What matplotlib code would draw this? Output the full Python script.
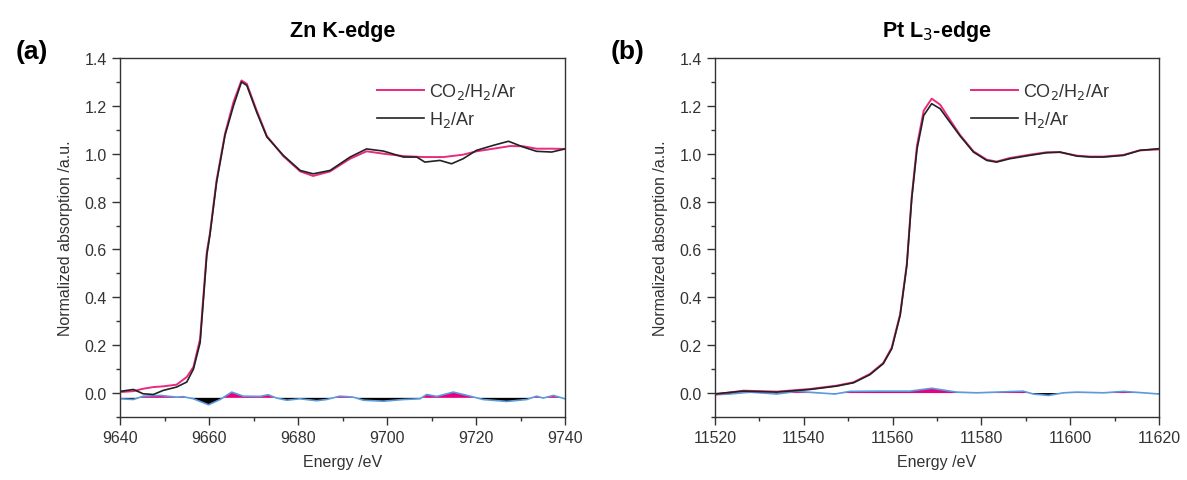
import numpy as np
import matplotlib.pyplot as plt
from matplotlib.ticker import MultipleLocator

plt.rcParams['font.family'] = ['Liberation Sans', 'DejaVu Sans']
plt.rcParams['text.color'] = '#333333'
plt.rcParams['axes.labelcolor'] = '#333333'
plt.rcParams['xtick.labelcolor'] = '#333333'
plt.rcParams['ytick.labelcolor'] = '#333333'

# Zn K-edge
zn_e_h2 = [9640, 9643, 9645.2, 9647.5, 9649.7, 9652.7, 9655, 9656.5, 9658, 9659.5, 9660.2,
           9661.7, 9663.6, 9665.5, 9667.3, 9668.5, 9670.7, 9673, 9676.7, 9680.5, 9683.4,
           9687.2, 9691.7, 9695.4, 9699.2, 9703.7, 9706.7, 9708.5, 9711.9, 9714.5, 9717.1,
           9720.1, 9723.9, 9727.3, 9730.6, 9733.6, 9737, 9740]
zn_h2 = [0.007, 0.015, -0.003, -0.006, 0.011, 0.025, 0.046, 0.10, 0.21, 0.575, 0.66,
         0.88, 1.077, 1.20, 1.30, 1.285, 1.174, 1.07, 0.993, 0.93, 0.916,
         0.93, 0.986, 1.02, 1.011, 0.986, 0.986, 0.965, 0.972, 0.958, 0.979,
         1.014, 1.035, 1.052, 1.028, 1.01, 1.007, 1.02]
zn_e_co2 = [9640, 9643, 9645.2, 9647.5, 9649.7, 9652.7, 9655, 9656.5, 9658, 9659.5, 9660.2,
            9661.7, 9663.6, 9665.5, 9667.3, 9668.5, 9670.7, 9673, 9676.7, 9680.5, 9683.4,
            9687.2, 9691.7, 9695.4, 9699.2, 9703.7, 9708.2, 9712.7, 9717.1, 9720.1, 9723.9,
            9727.7, 9730.6, 9733.6, 9737, 9740]
zn_co2 = [0.004, 0.008, 0.018, 0.025, 0.028, 0.035, 0.067, 0.109, 0.227, 0.589, 0.666,
          0.889, 1.084, 1.216, 1.306, 1.292, 1.181, 1.074, 0.99, 0.926, 0.907,
          0.926, 0.979, 1.01, 1.0, 0.99, 0.986, 0.986, 0.996, 1.01, 1.021,
          1.032, 1.031, 1.021, 1.021, 1.02]
zn_e_diff = [9640, 9643, 9645.2, 9649, 9652.7, 9654.2, 9656.5, 9659.9, 9662.5, 9665.1, 9667.7,
             9671.5, 9673.3, 9675.2, 9677.5, 9680.4, 9684.2, 9686.4, 9689.4, 9692.4, 9694.7,
             9699.2, 9703.7, 9707.4, 9708.9, 9711.2, 9714.9, 9718.7, 9721.6, 9726.9, 9731.4,
             9733.6, 9735.1, 9737.4, 9740]
zn_diff = [-0.004, -0.007, 0.007, 0.01, 0.003, 0.005, -0.004, -0.029, -0.007, 0.024, 0.007,
           0.006, 0.013, -0.001, -0.01, -0.004, -0.012, -0.007, 0.007, 0.003, -0.01,
           -0.014, -0.007, -0.004, 0.014, 0.006, 0.024, 0.007, -0.007, -0.015, -0.007,
           0.007, -0.001, 0.01, -0.004]
zn_base = -0.02

# Pt L3-edge
pt_e = [11520, 11526.4, 11533.9, 11541.4, 11547.4, 11551.2, 11554.9, 11557.9, 11559.8, 11561.7,
        11563.2, 11564.3, 11565.5, 11567, 11568.8, 11570.7, 11572.9, 11575.2, 11578.2, 11581.2,
        11583.4, 11586.4, 11590.9, 11594.7, 11597.7, 11601.5, 11604.5, 11607.5, 11612, 11615.7,
        11620]
pt_h2 = [-0.003, 0.008, 0.004, 0.015, 0.029, 0.043, 0.077, 0.123, 0.185, 0.325,
         0.533, 0.812, 1.02, 1.16, 1.209, 1.188, 1.132, 1.074, 1.007, 0.972,
         0.965, 0.979, 0.993, 1.004, 1.007, 0.99, 0.986, 0.986, 0.993, 1.014,
         1.021]
pt_co2 = [-0.006, 0.01, 0.006, 0.017, 0.031, 0.045, 0.08, 0.126, 0.19, 0.33,
          0.54, 0.82, 1.035, 1.18, 1.23, 1.205, 1.142, 1.078, 1.01, 0.975,
          0.967, 0.982, 0.996, 1.006, 1.006, 0.992, 0.988, 0.988, 0.995, 1.014,
          1.018]
pt_e_diff = [11520, 11523.4, 11527.9, 11533.9, 11538.4, 11547, 11550.4, 11556.4, 11563.9, 11568.8,
             11574.4, 11578.9, 11586.4, 11589.4, 11591.7, 11595.1, 11598.5, 11601.5, 11607.5, 11612,
             11616.5, 11620]
pt_diff = [-0.007, -0.004, 0.004, -0.004, 0.007, -0.004, 0.007, 0.008, 0.008, 0.02,
           0.004, 0.001, 0.006, 0.008, -0.004, -0.01, 0.001, 0.004, 0.001, 0.007,
           0.001, -0.004]
pt_base = 0.0

pink = '#ea2a7f'
blue = '#5b9bdc'

fig = plt.figure(figsize=(11.87, 4.81), dpi=100)
ax1 = fig.add_axes([0.1011, 0.131, 0.3749, 0.7464])
ax2 = fig.add_axes([0.6024, 0.131, 0.3740, 0.7464])


def draw(ax, e_co2, co2, e_h2, h2, e_d, d, base, xlim, xstep, title, label):
    e_d = np.array(e_d)
    yd = base + np.array(d)
    ax.fill_between(e_d, base, yd, where=yd >= base, interpolate=True, color='#e8007d', lw=0)
    ax.fill_between(e_d, base, yd, where=yd < base, interpolate=True, color='black', lw=0)
    ax.plot(e_d, yd, color=blue, lw=1.2)
    ax.plot(e_co2, co2, color=pink, lw=1.4, label='CO$_2$/H$_2$/Ar')
    ax.plot(e_h2, h2, color='#222222', lw=1.2, label='H$_2$/Ar')
    ax.set_xlim(*xlim)
    ax.set_ylim(-0.1, 1.4)
    ax.xaxis.set_major_locator(MultipleLocator(xstep))
    ax.xaxis.set_minor_locator(MultipleLocator(xstep / 2))
    ax.yaxis.set_major_locator(MultipleLocator(0.2))
    ax.yaxis.set_minor_locator(MultipleLocator(0.1))
    ax.set_yticks(np.arange(0, 1.41, 0.2))
    ax.tick_params(which='major', direction='out', length=6, width=1, labelsize=11.5, color='#333333')
    ax.tick_params(which='minor', direction='out', length=3, width=1, color='#333333')
    for s in ax.spines.values():
        s.set_color('#333333')
        s.set_linewidth(1.0)
    ax.set_xlabel('Energy /eV', fontsize=11.5, labelpad=6)
    ax.set_ylabel('Normalized absorption /a.u.', fontsize=11.5, labelpad=8)
    ax.set_title(title, fontsize=15.5, fontweight='bold', pad=16, color='black')
    ax.text(-0.198, 1.02, label, transform=ax.transAxes, fontsize=19, fontweight='bold',
            ha='center', va='center', color='black')
    ax.legend(loc='upper left', bbox_to_anchor=(0.54, 0.98), frameon=False, fontsize=13,
              handlelength=2.6, handletextpad=0.3, labelspacing=0.42)


draw(ax1, zn_e_co2, zn_co2, zn_e_h2, zn_h2, zn_e_diff, zn_diff, zn_base,
     (9640, 9740), 20, 'Zn K-edge', '(a)')
draw(ax2, pt_e, pt_co2, pt_e, pt_h2, pt_e_diff, pt_diff, pt_base,
     (11520, 11620), 20, 'Pt L$_3$-edge', '(b)')

fig.savefig('out.png', dpi=100)
